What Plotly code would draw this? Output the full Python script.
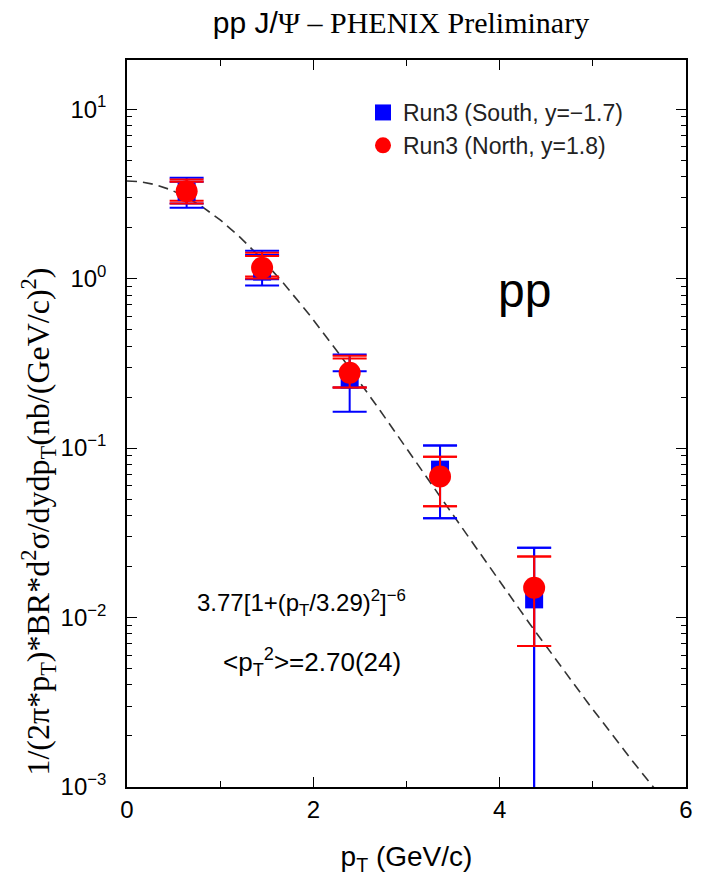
import numpy as np
import plotly.graph_objects as go

# ---- data ----
pt = [0.64, 1.45, 2.39, 3.36, 4.37]

south_y = [3.25, 1.10, 0.254, 0.0746, 0.0128]
south_up = [0.69, 0.36, 0.102, 0.029, 0.013]
south_dn = [0.63, 0.19, 0.090, 0.036, 0.01279]
south_sys_up = [0.48, 0.28, 0.030, 0.029, 0.013]
south_sys_dn = [0.48, 0.11, 0.026, 0.036, 0.01279]

north_y = [3.28, 1.16, 0.278, 0.068, 0.0150]
north_up = [0.56, 0.26, 0.072, 0.021, 0.0079]
north_dn = [0.51, 0.16, 0.050, 0.0226, 0.0082]
north_sys_up = [0.45, 0.20, 0.060, 0.021, 0.0079]
north_sys_dn = [0.40, 0.13, 0.050, 0.0226, 0.0082]

# fit function parameters (as printed on the chart)
fit_A, fit_p0, fit_n = 3.77, 3.29, 6

ytick_vals = [1e-3, 1e-2, 1e-1, 1e0, 1e1]
ytick_text = ["10<sup>−3</sup>", "10<sup>−2</sup>", "10<sup>−1</sup>", "10<sup>0</sup>", "10<sup>1</sup>"]
xtick_vals = [0, 2, 4, 6]
xminor_vals = [1, 3, 5]

SANS = "Liberation Sans"
SERIF = "Liberation Serif"

yminor = [m * 10.0 ** e for e in range(-3, 2) for m in range(2, 10)]

curve_x = np.linspace(0, 6, 301)
curve_y = fit_A * (1 + (curve_x / fit_p0) ** 2) ** (-fit_n)

fig = go.Figure()

fig.add_trace(go.Scatter(x=curve_x, y=curve_y, mode="lines",
                         line=dict(color="#333333", width=1.6, dash="10px,6px"),
                         showlegend=False, hoverinfo="skip"))

def err(up, dn, color):
    return dict(type="data", symmetric=False, array=up, arrayminus=dn,
                color=color, thickness=2, width=17)

# systematic caps
fig.add_trace(go.Scatter(x=pt, y=south_y, mode="markers",
                         marker=dict(size=1, color="rgba(0,0,0,0)"),
                         error_y=err(south_sys_up, south_sys_dn, "#0000ff"),
                         showlegend=False, hoverinfo="skip"))
fig.add_trace(go.Scatter(x=pt, y=north_y, mode="markers",
                         marker=dict(size=1, color="rgba(0,0,0,0)"),
                         error_y=err(north_sys_up, north_sys_dn, "#ff0000"),
                         showlegend=False, hoverinfo="skip"))

fig.add_trace(go.Scatter(x=pt, y=south_y, mode="markers", name="Run3 (South, y=−1.7)",
                         legendgroup="s",
                         marker=dict(symbol="square", size=18, color="#0000ff"),
                         error_y=err(south_up, south_dn, "#0000ff")))
fig.add_trace(go.Scatter(x=pt, y=north_y, mode="markers", name="Run3 (North, y=1.8)",
                         legendgroup="n",
                         marker=dict(symbol="circle", size=22, color="#ff0000"),
                         error_y=err(north_up, north_dn, "#ff0000")))

axis_common = dict(showline=True, linecolor="black", linewidth=1.5, mirror="allticks",
                   ticks="inside", tickcolor="black", tickwidth=1.2, showgrid=False,
                   zeroline=False)

fig.update_xaxes(range=[0, 6], tickvals=xtick_vals, ticklen=10,
                 tickfont=dict(family=SANS, size=24, color="black"),
                 minor=dict(tickvals=xminor_vals, ticks="inside", ticklen=6, tickcolor="black"),
                 title=dict(text="p<sub>T</sub> (GeV/c)", font=dict(family=SANS, size=28, color="black"),
                            standoff=25),
                 **axis_common)
fig.update_yaxes(type="log", range=[-3, 1.29], tickvals=ytick_vals, ticktext=ytick_text, ticklen=10,
                 tickfont=dict(family=SANS, size=24, color="black"),
                 minor=dict(tickvals=yminor, ticks="inside", ticklen=5, tickcolor="black"),
                 ticklabelstandoff=14,
                 **axis_common)

fig.add_annotation(text="1/(2π*p<sub>T</sub>)*BR*d<sup>2</sup>σ/dydp<sub>T</sub>(nb/(GeV/c)<sup>2</sup>)",
                   xref="paper", yref="paper", x=-0.16, y=(787 - 522) / 727, textangle=-90,
                   xanchor="center", yanchor="middle",
                   showarrow=False, font=dict(family=SERIF, size=32, color="black"))

fig.add_annotation(text="pp", xref="paper", yref="paper", x=(524 - 127) / 559, y=(787 - 290) / 727,
                   xanchor="center", yanchor="middle",
                   showarrow=False, font=dict(family=SANS, size=48, color="black"))
fig.add_annotation(text="3.77[1+(p<sub>T</sub>/3.29)<sup>2</sup>]<sup>−6</sup>",
                   xref="paper", yref="paper", x=(301 - 127) / 559, y=(787 - 603) / 727,
                   xanchor="center", yanchor="middle",
                   showarrow=False, font=dict(family=SANS, size=24, color="black"))
fig.add_annotation(text="&lt;p<sub>T</sub><sup>2</sup>&gt;=2.70(24)",
                   xref="paper", yref="paper", x=(312 - 127) / 559, y=(787 - 662) / 727,
                   xanchor="center", yanchor="middle",
                   showarrow=False, font=dict(family=SANS, size=26, color="black"))

fig.update_layout(
    width=709, height=891,
    margin=dict(l=127, r=23, t=60, b=104),
    paper_bgcolor="white", plot_bgcolor="white",
    title=dict(text="pp J/<span style=\"font-family:Liberation Serif\">Ψ – PHENIX Preliminary</span>",
               x=401 / 709, xanchor="center", y=1 - 22 / 891, yanchor="middle",
               font=dict(family=SANS, size=30, color="black")),
    legend=dict(x=(363 - 127) / 559, y=(787 - 91) / 727, xanchor="left", yanchor="top",
                bgcolor="rgba(0,0,0,0)", font=dict(family=SANS, size=23, color="#222222"),
                tracegroupgap=0, traceorder="grouped", itemwidth=30),
    showlegend=True,
)

fig.write_html("out.html")
